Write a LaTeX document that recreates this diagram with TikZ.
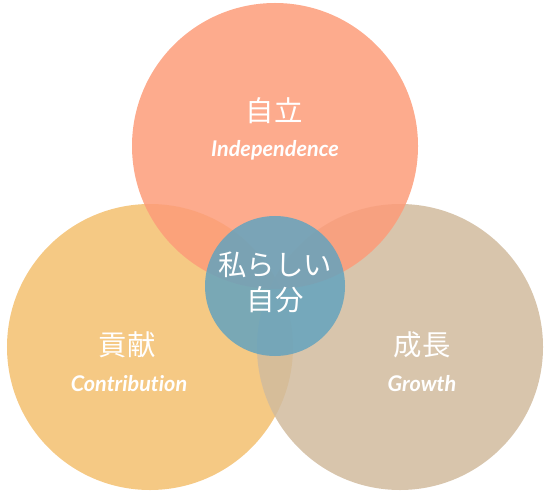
\documentclass[tikz,border=0pt]{standalone}
\usepackage{fontspec}
\setmainfont{Lato}
\newfontfamily\cjk{Noto Sans CJK JP}
\newfontfamily\lato[Ligatures=NoCommon]{Lato}
\definecolor{ctop}{RGB}{253,156,121}
\definecolor{cleft}{RGB}{243,191,111}
\definecolor{cright}{RGB}{209,187,158}
\definecolor{ccenter}{RGB}{100,163,190}
\tikzset{
  bigcirc/.style={circle, minimum size=286bp, inner sep=0pt, fill opacity=0.85},
  jp/.style={text=white, font=\cjk\fontsize{28.5}{35}\selectfont, align=center, inner sep=0pt},
  en/.style={text=white, font=\lato\bfseries\itshape\fontsize{21.7}{24}\selectfont, inner sep=0pt},
}
\begin{document}
\begin{tikzpicture}[x=1bp,y=-1bp]
\useasboundingbox (0,0) rectangle (549,492);
\node[bigcirc, fill=cleft] (left) at (150,347) {};
\node[bigcirc, fill=cright] (right) at (400,347) {};
\node[bigcirc, fill=ctop] (top) at (275,146) {};
\node[circle, minimum size=140bp, inner sep=0pt, fill=ccenter, fill opacity=0.85] (center) at (275,286) {};
\node[jp] (topjp) at (274,111) {自立};
\node[en] (topen) at (275,150) {Independence};
\node[jp] (leftjp) at (127,345) {貢献};
\node[en] (leften) at (129,384) {Contribution};
\node[jp] (rightjp) at (422,345) {成長};
\node[en] (righten) at (422,384) {Growth};
\node[jp] (centerjp) at (275,282) {私らしい\\自分};
\end{tikzpicture}
\end{document}
